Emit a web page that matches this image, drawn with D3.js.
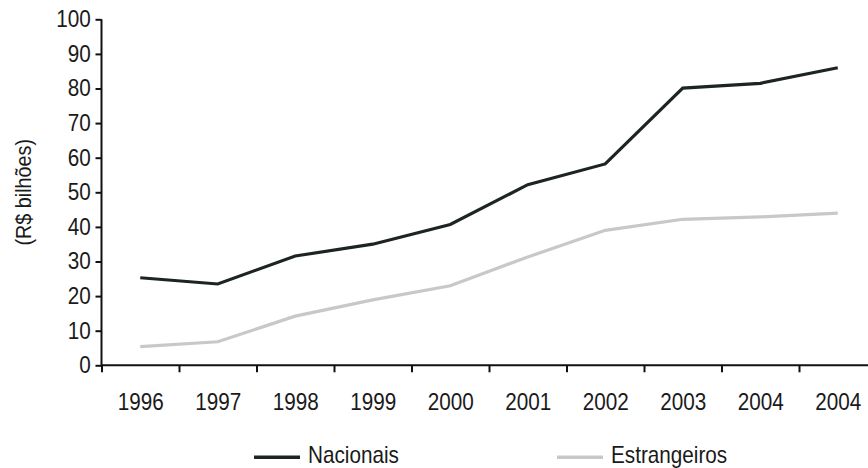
<!DOCTYPE html>
<html>
<head>
<meta charset="utf-8">
<script src="https://cdn.jsdelivr.net/npm/d3@7"></script>
<style>
  html, body { margin: 0; padding: 0; background: #fff; }
  svg { display: block; }
  text { font-family: "Liberation Sans", Arial, sans-serif; fill: #1a1a1a; }
</style>
</head>
<body>
<svg id="chart" width="868" height="468"></svg>
<script>
const categories = ["1996","1997","1998","1999","2000","2001","2002","2003","2004","2004"];
const nacionais = [25.3, 23.5, 31.6, 35.0, 40.7, 52.2, 58.2, 80.1, 81.5, 86.0];
const estrangeiros = [5.4, 6.8, 14.2, 18.9, 23.0, 31.3, 39.0, 42.2, 42.9, 44.0];
const yTicks = [0,10,20,30,40,50,60,70,80,90,100];
const seriesNames = ["Nacionais", "Estrangeiros"];
const seriesColors = ["#1c2424", "#c8c8c8"];

const svg = d3.select("#chart");
const mLeft = 101.5, mRight = 876.5, mTop = 19.3, mBottom = 365.3;
const fontSize = 23, squeeze = 0.9;

const xEdge = d3.scaleLinear().domain([0, categories.length]).range([mLeft, mRight]);
const y = d3.scaleLinear().domain([0, 100]).range([mBottom, mTop]);

// Y axis
const yAxis = svg.append("g").attr("transform", `translate(${mLeft},0)`)
  .call(d3.axisLeft(y).tickValues(yTicks).tickSize(6).tickPadding(6));
yAxis.select(".domain").attr("stroke", "#111").attr("stroke-width", 2).attr("d", `M0,${mTop}V${mBottom}`);
yAxis.selectAll(".tick line").attr("stroke", "#111").attr("stroke-width", 2);
yAxis.selectAll(".tick text")
  .style("font-size", fontSize + "px").style("font-family", '"Liberation Sans", Arial, sans-serif')
  .attr("fill", "#1a1a1a").attr("transform", `scale(${squeeze},1)`);

// X axis tick marks at band edges
const xAxis = svg.append("g").attr("transform", `translate(0,${mBottom})`)
  .call(d3.axisBottom(xEdge).tickValues(d3.range(0, categories.length)).tickFormat("").tickSize(7));
xAxis.select(".domain").attr("stroke", "#111").attr("stroke-width", 2).attr("d", `M${mLeft},0H868`);
xAxis.selectAll(".tick line").attr("stroke", "#111").attr("stroke-width", 2);

// X labels at band centers
const xLab = svg.append("g").attr("transform", `translate(0,${mBottom})`)
  .call(d3.axisBottom(xEdge).tickValues(d3.range(0, categories.length).map(i => i + 0.5))
    .tickFormat(v => categories[Math.floor(v)]).tickSize(0).tickPadding(28));
xLab.select(".domain").remove();
xLab.selectAll(".tick text")
  .style("font-size", fontSize + "px").style("font-family", '"Liberation Sans", Arial, sans-serif')
  .attr("fill", "#1a1a1a").attr("transform", `scale(${squeeze},1)`);

// Y title
svg.append("text")
  .attr("transform", `translate(31,${(mTop + mBottom) / 2}) rotate(-90) scale(${squeeze},1)`)
  .attr("text-anchor", "middle")
  .style("font-size", "22px")
  .text("(R$ bilhões)");

// Lines
const line = d3.line().x((d, i) => xEdge(i + 0.5)).y(d => y(d));
[[estrangeiros, 1], [nacionais, 0]].forEach(([s, idx]) => {
  svg.append("path").datum(s)
    .attr("fill", "none")
    .attr("stroke", seriesColors[idx])
    .attr("stroke-width", 3.2)
    .attr("stroke-linejoin", "miter")
    .attr("d", line);
});

// Legend
const legendX = [254, 557];
seriesNames.forEach((name, i) => {
  const g = svg.append("g").attr("transform", `translate(${legendX[i]},457.3)`);
  g.append("line").attr("x1", 0).attr("x2", 46).attr("y1", 0).attr("y2", 0)
    .attr("stroke", seriesColors[i]).attr("stroke-width", 3.4);
  g.append("text").attr("transform", `translate(54,6) scale(${squeeze},1)`)
    .style("font-size", fontSize + "px").text(name);
});
</script>
</body>
</html>
